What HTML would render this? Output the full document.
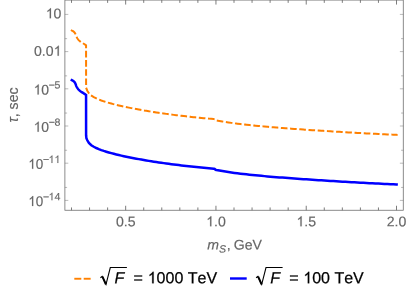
<!DOCTYPE html>
<html><head><meta charset="utf-8"><title>plot</title>
<style>
html,body{margin:0;padding:0;background:#fff;}
body{width:415px;height:297px;overflow:hidden;font-family:"Liberation Sans",sans-serif;}
svg{display:block;will-change:transform;}
text{font-family:"Liberation Sans",sans-serif;font-kerning:none;}
.t{font-size:14.1px;fill:#666666;stroke:#666;stroke-width:0.18px;}
   .s{font-size:10.6px;fill:#666666;stroke:#666;stroke-width:0.15px;}
.l{font-size:16px;fill:#000;stroke:#000;stroke-width:0.25px;}
.gt,.gs{fill:#666666;stroke:#666;stroke-width:0.013;}
.gl{fill:#000;stroke:#000;stroke-width:0.016;}
</style></head><body>
<svg width="415" height="297" viewBox="0 0 415 297">
<rect x="0" y="0" width="415" height="297" fill="#ffffff"/>

<path d="M71.80 80.10 L72.00 80.22 L72.29 80.38 L72.62 80.57 L72.98 80.78 L73.31 80.99 L73.60 81.20 L73.84 81.40 L74.06 81.61 L74.26 81.82 L74.45 82.04 L74.63 82.26 L74.80 82.50 L74.96 82.74 L75.09 82.98 L75.22 83.23 L75.34 83.50 L75.47 83.78 L75.60 84.10 L75.73 84.45 L75.86 84.83 L75.99 85.23 L76.13 85.65 L76.30 86.07 L76.50 86.50 L76.74 86.94 L77.02 87.40 L77.32 87.87 L77.64 88.33 L77.97 88.78 L78.30 89.20 L78.64 89.59 L78.99 89.96 L79.35 90.32 L79.73 90.66 L80.11 90.99 L80.50 91.30 L80.90 91.59 L81.31 91.86 L81.72 92.11 L82.15 92.36 L82.59 92.62 L83.05 92.90 L83.56 93.23 L84.13 93.61 L84.71 94.00 L85.26 94.37 L85.73 94.68 L86.06 94.90 L86.10 135.50 L86.40 138.10 L87.30 140.30 L88.90 142.90 L91.30 145.22 L93.80 146.74 L96.30 148.01 L98.80 149.10 L101.30 150.06 L103.80 150.93 L106.30 151.73 L108.80 152.47 L111.30 153.16 L113.80 153.82 L116.30 154.44 L118.80 155.04 L121.30 155.62 L123.80 156.17 L126.30 156.70 L128.80 157.22 L131.30 157.72 L133.80 158.21 L136.30 158.68 L138.80 159.14 L141.30 159.58 L143.80 160.02 L146.30 160.44 L148.80 160.86 L151.30 161.26 L153.80 161.65 L156.30 162.03 L158.80 162.41 L161.30 162.77 L163.80 163.13 L166.30 163.47 L168.80 163.81 L171.30 164.14 L173.80 164.47 L176.30 164.78 L178.80 165.09 L181.30 165.39 L183.80 165.68 L186.30 165.96 L188.80 166.24 L191.30 166.51 L193.80 166.78 L196.30 167.04 L198.80 167.29 L201.30 167.53 L203.80 167.77 L206.30 168.01 L208.80 168.24 L211.30 168.46 L213.80 168.67 L214.00 168.69 L214.60 168.81 L215.60 169.77 L216.40 169.97 L219.40 170.54 L222.40 171.07 L225.40 171.57 L228.40 172.04 L231.40 172.48 L234.40 172.89 L237.40 173.29 L240.40 173.66 L243.40 174.02 L246.40 174.35 L249.40 174.68 L252.40 174.99 L255.40 175.29 L258.40 175.58 L261.40 175.86 L264.40 176.13 L267.40 176.39 L270.40 176.65 L273.40 176.90 L276.40 177.15 L279.40 177.38 L282.40 177.62 L285.40 177.85 L288.40 178.07 L291.40 178.30 L294.40 178.51 L297.40 178.73 L300.40 178.94 L303.40 179.15 L306.40 179.36 L309.40 179.56 L312.40 179.76 L315.40 179.96 L318.40 180.16 L321.40 180.35 L324.40 180.54 L327.40 180.73 L330.40 180.92 L333.40 181.10 L336.40 181.29 L339.40 181.47 L342.40 181.65 L345.40 181.82 L348.40 181.99 L351.40 182.17 L354.40 182.33 L357.40 182.50 L360.40 182.66 L363.40 182.83 L366.40 182.98 L369.40 183.14 L372.40 183.29 L375.40 183.45 L378.40 183.59 L381.40 183.74 L384.40 183.88 L387.40 184.02 L390.40 184.16 L393.40 184.29 L396.40 184.42 L396.60 184.43" fill="none" stroke="#0000ff" stroke-width="2.5" stroke-linejoin="miter" stroke-linecap="square"/>
<path d="M71.80 30.50 L72.00 30.62 L72.29 30.78 L72.62 30.97 L72.98 31.18 L73.31 31.39 L73.60 31.60 L73.84 31.80 L74.06 32.01 L74.26 32.22 L74.45 32.44 L74.63 32.66 L74.80 32.90 L74.96 33.14 L75.09 33.38 L75.22 33.63 L75.34 33.90 L75.47 34.18 L75.60 34.50 L75.73 34.85 L75.86 35.23 L75.99 35.63 L76.13 36.05 L76.30 36.47 L76.50 36.90 L76.74 37.34 L77.02 37.80 L77.32 38.27 L77.64 38.73 L77.97 39.18 L78.30 39.60 L78.64 39.99 L78.99 40.36 L79.35 40.72 L79.73 41.06 L80.11 41.39 L80.50 41.70 L80.90 41.99 L81.31 42.26 L81.72 42.51 L82.15 42.76 L82.59 43.02 L83.05 43.30 L83.56 43.63 L84.13 44.01 L84.71 44.40 L85.26 44.77 L85.73 45.08 L86.06 45.30 L86.10 85.90 L86.40 88.50 L87.30 90.70 L88.90 93.30 L91.30 95.62 L93.80 97.14 L96.30 98.41 L98.80 99.50 L101.30 100.46 L103.80 101.33 L106.30 102.13 L108.80 102.87 L111.30 103.56 L113.80 104.22 L116.30 104.84 L118.80 105.44 L121.30 106.02 L123.80 106.57 L126.30 107.10 L128.80 107.62 L131.30 108.12 L133.80 108.61 L136.30 109.08 L138.80 109.54 L141.30 109.98 L143.80 110.42 L146.30 110.84 L148.80 111.26 L151.30 111.66 L153.80 112.05 L156.30 112.43 L158.80 112.81 L161.30 113.17 L163.80 113.53 L166.30 113.87 L168.80 114.21 L171.30 114.54 L173.80 114.87 L176.30 115.18 L178.80 115.49 L181.30 115.79 L183.80 116.08 L186.30 116.36 L188.80 116.64 L191.30 116.91 L193.80 117.18 L196.30 117.44 L198.80 117.69 L201.30 117.93 L203.80 118.17 L206.30 118.41 L208.80 118.64 L211.30 118.86 L213.80 119.07 L214.00 119.09 L214.60 119.21 L215.60 120.17 L216.40 120.37 L219.40 120.94 L222.40 121.47 L225.40 121.97 L228.40 122.44 L231.40 122.88 L234.40 123.29 L237.40 123.69 L240.40 124.06 L243.40 124.42 L246.40 124.75 L249.40 125.08 L252.40 125.39 L255.40 125.69 L258.40 125.98 L261.40 126.26 L264.40 126.53 L267.40 126.79 L270.40 127.05 L273.40 127.30 L276.40 127.55 L279.40 127.78 L282.40 128.02 L285.40 128.25 L288.40 128.47 L291.40 128.70 L294.40 128.91 L297.40 129.13 L300.40 129.34 L303.40 129.55 L306.40 129.76 L309.40 129.96 L312.40 130.16 L315.40 130.36 L318.40 130.56 L321.40 130.75 L324.40 130.94 L327.40 131.13 L330.40 131.32 L333.40 131.50 L336.40 131.69 L339.40 131.87 L342.40 132.05 L345.40 132.22 L348.40 132.39 L351.40 132.57 L354.40 132.73 L357.40 132.90 L360.40 133.06 L363.40 133.23 L366.40 133.38 L369.40 133.54 L372.40 133.69 L375.40 133.85 L378.40 133.99 L381.40 134.14 L384.40 134.28 L387.40 134.42 L390.40 134.56 L393.40 134.69 L396.40 134.82 L396.60 134.83" fill="none" stroke="#ff8000" stroke-width="2" stroke-linejoin="miter" stroke-linecap="square" stroke-dasharray="4.61 4.615" stroke-dashoffset="0"/>
<g stroke="#666666" stroke-width="0.75" fill="none">
<rect x="64.90" y="0.07" width="338.36" height="210.17"/>
</g>
<path d="M71.50 210.25 v-2.80 M71.50 0.07 v2.80 M89.56 210.25 v-2.80 M89.56 0.07 v2.80 M107.61 210.25 v-2.80 M107.61 0.07 v2.80 M125.67 210.25 v-4.50 M125.67 0.07 v4.50 M143.72 210.25 v-2.80 M143.72 0.07 v2.80 M161.78 210.25 v-2.80 M161.78 0.07 v2.80 M179.84 210.25 v-2.80 M179.84 0.07 v2.80 M197.89 210.25 v-2.80 M197.89 0.07 v2.80 M215.95 210.25 v-4.50 M215.95 0.07 v4.50 M234.00 210.25 v-2.80 M234.00 0.07 v2.80 M252.06 210.25 v-2.80 M252.06 0.07 v2.80 M270.12 210.25 v-2.80 M270.12 0.07 v2.80 M288.17 210.25 v-2.80 M288.17 0.07 v2.80 M306.23 210.25 v-4.50 M306.23 0.07 v4.50 M324.28 210.25 v-2.80 M324.28 0.07 v2.80 M342.34 210.25 v-2.80 M342.34 0.07 v2.80 M360.40 210.25 v-2.80 M360.40 0.07 v2.80 M378.45 210.25 v-2.80 M378.45 0.07 v2.80 M396.51 210.25 v-4.50 M396.51 0.07 v4.50" stroke="#666666" stroke-width="0.85" fill="none"/>
<path d="M64.90 14.40 h3.4 M403.26 14.40 h-3.4 M64.90 51.60 h3.4 M403.26 51.60 h-3.4 M64.90 88.80 h3.4 M403.26 88.80 h-3.4 M64.90 126.00 h3.4 M403.26 126.00 h-3.4 M64.90 163.20 h3.4 M403.26 163.20 h-3.4 M64.90 200.40 h3.4 M403.26 200.40 h-3.4 M64.90 38.65 h2.2 M403.26 38.65 h-2.2 M64.90 75.85 h2.2 M403.26 75.85 h-2.2 M64.90 113.05 h2.2 M403.26 113.05 h-2.2 M64.90 150.25 h2.2 M403.26 150.25 h-2.2 M64.90 187.45 h2.2 M403.26 187.45 h-2.2" stroke="#666666" stroke-width="0.45" fill="none"/>
<text class="t" transform="translate(125.67 226.30) rotate(0.03) scale(1.000 0.990)" text-anchor="middle">0.5</text>
<g transform="translate(215.95 226.30) rotate(0.03) scale(1.000 0.990)"><text class="t" text-anchor="middle"><tspan visibility="hidden">1</tspan>.0</text><path class="gt" transform="translate(-9.801 0) scale(14.100 -14.100)" d="M0.370 0H0.282V0.558C0.240 0.520 0.175 0.480 0.116 0.455V0.538C0.205 0.580 0.280 0.650 0.313 0.716H0.370Z"/></g>
<g transform="translate(306.23 226.30) rotate(0.03) scale(1.000 0.990)"><text class="t" text-anchor="middle"><tspan visibility="hidden">1</tspan>.5</text><path class="gt" transform="translate(-9.801 0) scale(14.100 -14.100)" d="M0.370 0H0.282V0.558C0.240 0.520 0.175 0.480 0.116 0.455V0.538C0.205 0.580 0.280 0.650 0.313 0.716H0.370Z"/></g>
<text class="t" transform="translate(396.51 226.30) rotate(0.03) scale(1.000 0.990)" text-anchor="middle">2.0</text>
<g transform="translate(61.45 18.30) rotate(0.03) scale(1.000 0.990)"><text class="t" text-anchor="end"><tspan visibility="hidden">1</tspan>0</text><path class="gt" transform="translate(-15.685 0) scale(14.100 -14.100)" d="M0.370 0H0.282V0.558C0.240 0.520 0.175 0.480 0.116 0.455V0.538C0.205 0.580 0.280 0.650 0.313 0.716H0.370Z"/></g>
<g transform="translate(61.45 55.70) rotate(0.03) scale(1.000 0.990)"><text class="t" text-anchor="end">0.0<tspan visibility="hidden">1</tspan></text><path class="gt" transform="translate(-7.842 0) scale(14.100 -14.100)" d="M0.370 0H0.282V0.558C0.240 0.520 0.175 0.480 0.116 0.455V0.538C0.205 0.580 0.280 0.650 0.313 0.716H0.370Z"/></g>
<g transform="translate(49.12 94.45) rotate(0.03) scale(0.990 0.990)"><text class="t" text-anchor="end"><tspan visibility="hidden">1</tspan>0</text><path class="gt" transform="translate(-15.685 0) scale(14.100 -14.100)" d="M0.370 0H0.282V0.558C0.240 0.520 0.175 0.480 0.116 0.455V0.538C0.205 0.580 0.280 0.650 0.313 0.716H0.370Z"/></g>
<g transform="translate(60.30 88.55) rotate(0.03) scale(1.000 0.990)"><text class="s" text-anchor="end">−<tspan dx="-0.60">5</tspan></text></g>
<g transform="translate(49.12 131.65) rotate(0.03) scale(0.990 0.990)"><text class="t" text-anchor="end"><tspan visibility="hidden">1</tspan>0</text><path class="gt" transform="translate(-15.685 0) scale(14.100 -14.100)" d="M0.370 0H0.282V0.558C0.240 0.520 0.175 0.480 0.116 0.455V0.538C0.205 0.580 0.280 0.650 0.313 0.716H0.370Z"/></g>
<g transform="translate(60.30 125.75) rotate(0.03) scale(1.000 0.990)"><text class="s" text-anchor="end">−<tspan dx="-0.60">8</tspan></text></g>
<g transform="translate(43.22 168.85) rotate(0.03) scale(0.955 0.990)"><text class="t" text-anchor="end"><tspan visibility="hidden">1</tspan>0</text><path class="gt" transform="translate(-15.685 0) scale(14.100 -14.100)" d="M0.370 0H0.282V0.558C0.240 0.520 0.175 0.480 0.116 0.455V0.538C0.205 0.580 0.280 0.650 0.313 0.716H0.370Z"/></g>
<g transform="translate(60.30 162.95) rotate(0.03) scale(1.000 0.990)"><text class="s" text-anchor="end">−<tspan visibility="hidden" dx="-0.60">1</tspan><tspan visibility="hidden">1</tspan></text><path class="gs" transform="translate(-11.791 0) scale(10.600 -10.600)" d="M0.370 0H0.282V0.558C0.240 0.520 0.175 0.480 0.116 0.455V0.538C0.205 0.580 0.280 0.650 0.313 0.716H0.370Z"/><path class="gs" transform="translate(-5.896 0) scale(10.600 -10.600)" d="M0.370 0H0.282V0.558C0.240 0.520 0.175 0.480 0.116 0.455V0.538C0.205 0.580 0.280 0.650 0.313 0.716H0.370Z"/></g>
<g transform="translate(43.22 206.05) rotate(0.03) scale(0.955 0.990)"><text class="t" text-anchor="end"><tspan visibility="hidden">1</tspan>0</text><path class="gt" transform="translate(-15.685 0) scale(14.100 -14.100)" d="M0.370 0H0.282V0.558C0.240 0.520 0.175 0.480 0.116 0.455V0.538C0.205 0.580 0.280 0.650 0.313 0.716H0.370Z"/></g>
<g transform="translate(60.30 200.15) rotate(0.03) scale(1.000 0.990)"><text class="s" text-anchor="end">−<tspan visibility="hidden" dx="-0.60">1</tspan>4</text><path class="gs" transform="translate(-11.791 0) scale(10.600 -10.600)" d="M0.370 0H0.282V0.558C0.240 0.520 0.175 0.480 0.116 0.455V0.538C0.205 0.580 0.280 0.650 0.313 0.716H0.370Z"/></g>
<text class="t" transform="translate(207.30 249.50) rotate(0.03) scale(1.000 0.990)"><tspan font-style="italic">m</tspan><tspan class="s" font-style="italic" dy="2.9" style="font-size:10.6px">S</tspan><tspan dy="-2.9" dx="0.7">,</tspan><tspan dx="-0.9"> GeV</tspan></text>
<text class="t" transform="translate(17.6 122.5) rotate(-90) scale(1 0.990)"><tspan font-style="italic">τ</tspan>, sec</text>
<rect x="74.3" y="277.8" width="7" height="1.9" fill="#ff8000"/><rect x="83.7" y="277.8" width="6.95" height="1.9" fill="#ff8000"/>
<path d="M100.40 277.75 L102.20 276.45 L106.00 284.45 L110.30 267.5 L126.90 267.5" fill="none" stroke="#000" stroke-width="1.1" stroke-linejoin="miter"/><path d="M102.45 276.6 L105.90 284.45" fill="none" stroke="#000" stroke-width="2.0"/>
<text class="l" transform="translate(114.50 283.3) rotate(0.03)" font-style="italic">F</text>
<text class="l" transform="translate(133.40 283.3) rotate(0.03)">=</text>
<g transform="translate(147.70 283.3) rotate(0.03)"><text class="l"><tspan visibility="hidden">1</tspan>000 TeV</text><path class="gl" transform="translate(0.000 0) scale(16.000 -16.000)" d="M0.370 0H0.282V0.558C0.240 0.520 0.175 0.480 0.116 0.455V0.538C0.205 0.580 0.280 0.650 0.313 0.716H0.370Z"/></g>
<rect x="230" y="277.3" width="16.7" height="2.4" fill="#0000ff"/>
<path d="M256.10 277.75 L257.90 276.45 L261.70 284.45 L266.00 267.5 L282.60 267.5" fill="none" stroke="#000" stroke-width="1.1" stroke-linejoin="miter"/><path d="M258.15 276.6 L261.60 284.45" fill="none" stroke="#000" stroke-width="2.0"/>
<text class="l" transform="translate(270.20 283.3) rotate(0.03)" font-style="italic">F</text>
<text class="l" transform="translate(289.20 283.3) rotate(0.03)">=</text>
<g transform="translate(303.30 283.3) rotate(0.03)"><text class="l"><tspan visibility="hidden">1</tspan>00 TeV</text><path class="gl" transform="translate(0.000 0) scale(16.000 -16.000)" d="M0.370 0H0.282V0.558C0.240 0.520 0.175 0.480 0.116 0.455V0.538C0.205 0.580 0.280 0.650 0.313 0.716H0.370Z"/></g>
</svg></body></html>
